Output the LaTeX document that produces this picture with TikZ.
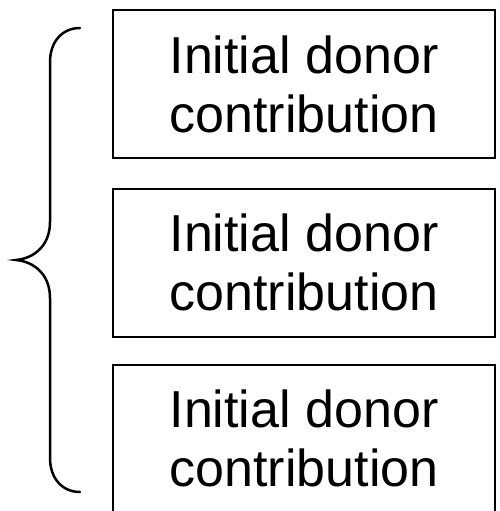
\documentclass[tikz,border=0pt]{standalone}
\usepackage{fontspec}
\setmainfont{Liberation Sans}
\begin{document}
\begin{tikzpicture}[x=1pt,y=-1pt,
  donorbox/.style={draw=black,line width=2pt,minimum width=382pt,minimum height=148pt,
    inner sep=0pt,align=center,font=\fontsize{52}{59}\selectfont},
  bracestyle/.style={draw=black,line width=2.5pt,line cap=round}]
\useasboundingbox (0,0) rectangle (500,511);
\node[donorbox] (b1) at (304,84) {Initial donor\\contribution};
\node[donorbox] (b2) at (304,262.5) {Initial donor\\contribution};
\node[donorbox] (b3) at (304,438.5) {Initial donor\\contribution};
\coordinate (btop) at (80,28);
\coordinate (btip) at (16,260);
\coordinate (bbot) at (80,492);
\draw[bracestyle] (btop) .. controls (62,28) and (50,42) .. (50,62)
  -- (50,222) .. controls (50,244) and (36,258) .. (btip)
  .. controls (36,262) and (50,276) .. (50,298)
  -- (50,458) .. controls (50,478) and (62,492) .. (bbot);
\end{tikzpicture}
\end{document}
